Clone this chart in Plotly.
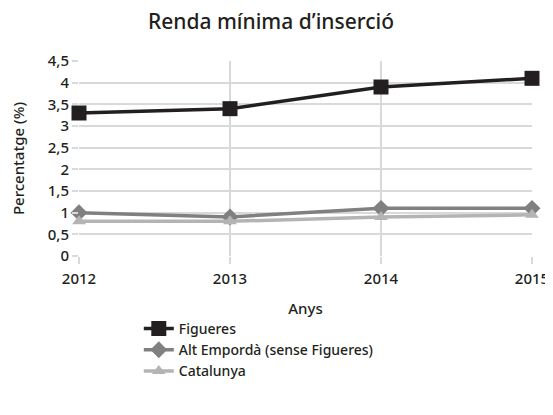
import plotly.graph_objects as go

years = [2012, 2013, 2014, 2015]
figueres = [3.3, 3.4, 3.9, 4.1]
alt_emporda = [1.0, 0.9, 1.1, 1.1]
catalunya = [0.8, 0.8, 0.9, 0.95]
y_ticks = [0, 0.5, 1, 1.5, 2, 2.5, 3, 3.5, 4, 4.5]
y_tick_labels = ["0", "0,5", "1", "1,5", "2", "2,5", "3", "3,5", "4", "4,5"]

FONT = "Noto Sans"
DARK = "#231f20"

fig = go.Figure()
fig.add_trace(go.Scatter(x=years, y=figueres, name="Figueres", mode="lines+markers",
                         line=dict(color=DARK, width=3.5), cliponaxis=False,
                         marker=dict(symbol="square", size=15, color=DARK)))
fig.add_trace(go.Scatter(x=years, y=alt_emporda, name="Alt Empordà (sense Figueres)", mode="lines+markers",
                         line=dict(color="#808080", width=3.5), cliponaxis=False,
                         marker=dict(symbol="diamond", size=13, color="#808080")))
fig.add_trace(go.Scatter(x=years, y=catalunya, name="Catalunya", mode="lines+markers",
                         line=dict(color="#b4b4b4", width=3.5), cliponaxis=False,
                         marker=dict(symbol="triangle-up", size=12, color="#b4b4b4")))

fig.update_layout(
    width=545, height=407,
    margin=dict(l=71, r=21, t=53, b=159, autoexpand=False),
    paper_bgcolor="white", plot_bgcolor="white",
    font=dict(family=FONT, color=DARK, size=15, weight=500),
    title=dict(text="Renda mínima d’inserció", x=0.4826, xanchor="center", y=0.9656, yanchor="middle",
               font=dict(size=21, family=FONT, color=DARK, weight=500)),
    showlegend=True,
    legend=dict(x=0.132, xanchor="left", y=-0.292, yanchor="top", orientation="v",
                font=dict(size=14, family=FONT, color=DARK, weight=500), tracegroupgap=0,
                itemwidth=30, bgcolor="rgba(0,0,0,0)"),
    xaxis=dict(range=[2012, 2015], tickvals=years, ticktext=[str(y) for y in years],
               showgrid=True, gridcolor="#d9d9d9", gridwidth=1.5,
               ticks="outside", ticklen=7, tickcolor="#d9d9d9", tickwidth=1.5,
               ticklabelstandoff=2,
               showline=False, zeroline=False, automargin=False,
               title=dict(text="Anys", font=dict(size=15), standoff=16),
               tickfont=dict(size=15)),
    yaxis=dict(range=[0, 4.5], tickvals=y_ticks, ticktext=y_tick_labels,
               showgrid=True, gridcolor="#d9d9d9", gridwidth=1.5,
               ticks="outside", ticklen=6, tickcolor="#d9d9d9", tickwidth=1.5,
               showline=False, zeroline=False, automargin=False,
               title=dict(text="Percentatge (%)", font=dict(size=15), standoff=26),
               tickfont=dict(size=15)),
)

fig.write_html("out.html")
